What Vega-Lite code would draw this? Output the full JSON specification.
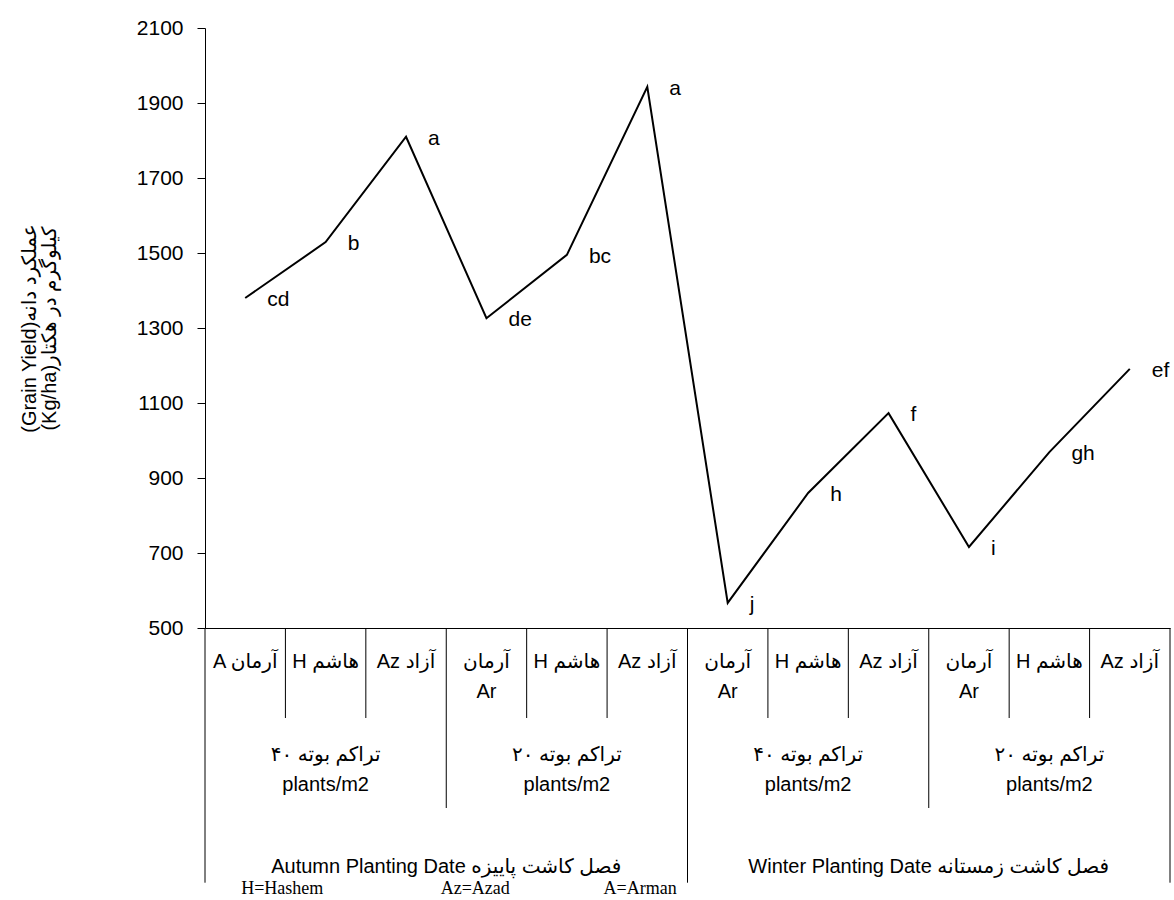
{
  "$schema": "https://vega.github.io/schema/vega-lite/v6.json",
  "padding": {"left": 19, "top": 17, "right": 0, "bottom": 0},
  "spacing": 0,
  "bounds": "flush",
  "config": {"view": {"stroke": null}, "font": "Liberation Sans"},
  "datasets": {
    "yield": [
      {"id": 1, "season": "Autumn", "density": "40", "variety": "Arman", "yield": 1380, "letter": "cd"},
      {"id": 2, "season": "Autumn", "density": "40", "variety": "Hashem", "yield": 1529, "letter": "b"},
      {"id": 3, "season": "Autumn", "density": "40", "variety": "Azad", "yield": 1810, "letter": "a"},
      {"id": 4, "season": "Autumn", "density": "20", "variety": "Arman", "yield": 1326, "letter": "de"},
      {"id": 5, "season": "Autumn", "density": "20", "variety": "Hashem", "yield": 1495, "letter": "bc"},
      {"id": 6, "season": "Autumn", "density": "20", "variety": "Azad", "yield": 1943, "letter": "a"},
      {"id": 7, "season": "Winter", "density": "40", "variety": "Arman", "yield": 567, "letter": "j"},
      {"id": 8, "season": "Winter", "density": "40", "variety": "Hashem", "yield": 860, "letter": "h"},
      {"id": 9, "season": "Winter", "density": "40", "variety": "Azad", "yield": 1073, "letter": "f"},
      {"id": 10, "season": "Winter", "density": "20", "variety": "Arman", "yield": 716, "letter": "i"},
      {"id": 11, "season": "Winter", "density": "20", "variety": "Hashem", "yield": 969, "letter": "gh"},
      {"id": 12, "season": "Winter", "density": "20", "variety": "Azad", "yield": 1191, "letter": "ef"}
    ],
    "grid": [
      {"x": 0, "top": 0, "bottom": 2.83},
      {"x": 1, "top": 0, "bottom": 1},
      {"x": 2, "top": 0, "bottom": 1},
      {"x": 3, "top": 0, "bottom": 2},
      {"x": 4, "top": 0, "bottom": 1},
      {"x": 5, "top": 0, "bottom": 1},
      {"x": 6, "top": 0, "bottom": 2.83},
      {"x": 7, "top": 0, "bottom": 1},
      {"x": 8, "top": 0, "bottom": 1},
      {"x": 9, "top": 0, "bottom": 2},
      {"x": 10, "top": 0, "bottom": 1},
      {"x": 11, "top": 0, "bottom": 1},
      {"x": 12, "top": 0, "bottom": 2.83}
    ],
    "cells": [
      {"x": 0.5, "level": 0.38, "t": "A آرمان"},
      {"x": 1.5, "level": 0.38, "t": "H هاشم"},
      {"x": 2.5, "level": 0.38, "t": "Az آزاد"},
      {"x": 3.5, "level": 0.38, "t": "آرمان\nAr"},
      {"x": 4.5, "level": 0.38, "t": "H هاشم"},
      {"x": 5.5, "level": 0.38, "t": "Az آزاد"},
      {"x": 6.5, "level": 0.38, "t": "آرمان\nAr"},
      {"x": 7.5, "level": 0.38, "t": "H هاشم"},
      {"x": 8.5, "level": 0.38, "t": "Az آزاد"},
      {"x": 9.5, "level": 0.38, "t": "آرمان\nAr"},
      {"x": 10.5, "level": 0.38, "t": "H هاشم"},
      {"x": 11.5, "level": 0.38, "t": "Az آزاد"},
      {"x": 1.5, "level": 1.41, "t": "تراکم بوته ۴۰\nplants/m2"},
      {"x": 4.5, "level": 1.41, "t": "تراکم بوته ۲۰\nplants/m2"},
      {"x": 7.5, "level": 1.41, "t": "تراکم بوته ۴۰\nplants/m2"},
      {"x": 10.5, "level": 1.41, "t": "تراکم بوته ۲۰\nplants/m2"},
      {"x": 3, "level": 2.65, "t": "Autumn Planting Date فصل کاشت پاییزه"},
      {"x": 9, "level": 2.65, "t": "Winter Planting Date  فصل کاشت زمستانه"}
    ],
    "notes": [
      {"x": 0.96, "level": 2.9, "t": "H=Hashem"},
      {"x": 3.36, "level": 2.9, "t": "Az=Azad"},
      {"x": 5.41, "level": 2.9, "t": "A=Arman"}
    ]
  },
  "vconcat": [
    {
      "width": 965,
      "height": 600,
      "data": {"name": "yield"},
      "encoding": {
        "x": {
          "field": "id", "type": "ordinal",
          "scale": {"type": "point", "padding": 0.5},
          "axis": {"labels": false, "ticks": false, "title": null, "domainColor": "black", "domainWidth": 1}
        },
        "y": {
          "field": "yield", "type": "quantitative",
          "scale": {"domain": [500, 2100], "nice": false, "zero": false},
          "axis": {
            "values": [500, 700, 900, 1100, 1300, 1500, 1700, 1900, 2100],
            "format": "d",
            "grid": false,
            "title": ["(Grain Yield)عملکرد دانه", "(Kg/ha)کیلوگرم در هکتار"],
            "titleFont": "Liberation Sans, DejaVu Sans",
            "titleFontSize": 20,
            "titleFontWeight": "normal",
            "titleColor": "black",
            "titlePadding": 77,
            "titleLineHeight": 20,
            "labelFont": "Liberation Sans",
            "labelFontSize": 21,
            "labelColor": "black",
            "labelPadding": 14,
            "tickSize": 8,
            "tickColor": "black",
            "domainColor": "black"
          }
        }
      },
      "layer": [
        {"mark": {"type": "line", "color": "black", "strokeWidth": 2}},
        {
          "mark": {"type": "text", "align": "left", "baseline": "middle", "dx": 22, "dy": 2, "fontSize": 21, "font": "Liberation Sans", "color": "black"},
          "encoding": {"text": {"field": "letter"}}
        }
      ]
    },
    {
      "width": 965,
      "height": 270,
      "layer": [
        {
          "data": {"name": "grid"},
          "mark": {"type": "rule", "color": "black", "strokeWidth": 1},
          "encoding": {
            "x": {"field": "x", "type": "quantitative", "scale": {"domain": [0, 12], "nice": false}, "axis": null},
            "y": {"field": "top", "type": "quantitative", "scale": {"domain": [0, 3], "reverse": true, "nice": false}, "axis": null},
            "y2": {"field": "bottom"}
          }
        },
        {
          "data": {"name": "cells"},
          "mark": {"type": "text", "lineBreak": "\n", "lineHeight": 30, "fontSize": 20, "font": "Liberation Sans, DejaVu Sans", "color": "black", "baseline": "middle"},
          "encoding": {
            "x": {"field": "x", "type": "quantitative"},
            "y": {"field": "level", "type": "quantitative"},
            "text": {"field": "t"}
          }
        },
        {
          "data": {"name": "notes"},
          "mark": {"type": "text", "fontSize": 18, "font": "Liberation Serif", "color": "black", "baseline": "middle"},
          "encoding": {
            "x": {"field": "x", "type": "quantitative"},
            "y": {"field": "level", "type": "quantitative"},
            "text": {"field": "t"}
          }
        }
      ]
    }
  ]
}
